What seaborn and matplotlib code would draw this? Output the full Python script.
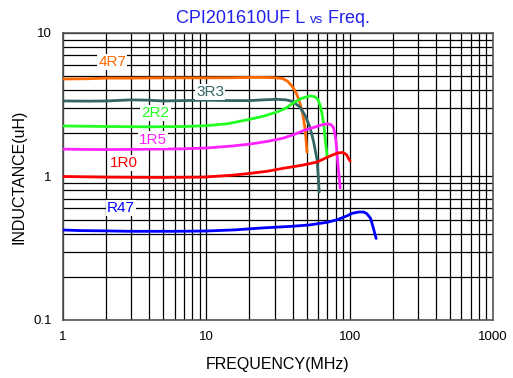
import numpy as np
import pandas as pd
import matplotlib
matplotlib.use("Agg")
import matplotlib.pyplot as plt
import seaborn as sns
from matplotlib.ticker import LogLocator, FixedLocator, FixedFormatter, NullFormatter

sns.set_theme(style="white")
plt.rcParams['font.family'] = ['Liberation Sans', 'DejaVu Sans']

# ---- data (frequency MHz, inductance uH) ----
f_4r7 = [1, 1.5, 2, 3, 5, 7, 10, 15, 20, 25, 30, 34, 37, 40, 42.5, 45, 47, 49, 50.4]
l_4r7 = [4.78, 4.8, 4.85, 4.85, 4.87, 4.87, 4.87, 4.88, 4.9, 4.9, 4.88, 4.82, 4.6, 4.2, 3.8, 3.25, 2.75, 2.1, 1.48]

f_3r3 = [1, 1.5, 2, 3, 4, 5, 7, 10, 15, 20, 25, 31, 36, 40, 45, 49, 52.8, 56, 59.3, 61.3]
l_3r3 = [3.36, 3.35, 3.36, 3.42, 3.4, 3.36, 3.38, 3.4, 3.38, 3.38, 3.42, 3.45, 3.42, 3.33, 3.05, 2.65, 2.21, 1.75, 1.30, 0.78]

f_2r2 = [1, 2, 4, 7, 10, 14, 19.2, 25, 31, 36, 40.3, 46, 52.8, 57, 60, 62.5, 64, 66, 67.3, 69.6]
l_2r2 = [2.25, 2.23, 2.22, 2.23, 2.26, 2.33, 2.48, 2.63, 2.81, 3.0, 3.25, 3.5, 3.64, 3.6, 3.45, 3.1, 2.77, 2.3, 1.88, 1.37]

f_1r5 = [1, 2, 4, 7, 10, 15, 20, 27, 34.3, 42, 48.8, 58, 65, 70, 74, 77, 79, 80.5, 83.1, 85.9]
l_1r5 = [1.55, 1.54, 1.55, 1.56, 1.58, 1.63, 1.68, 1.76, 1.85, 1.98, 2.11, 2.22, 2.3, 2.33, 2.3, 2.2, 1.98, 1.71, 1.17, 0.83]

f_1r0 = [1, 2, 4.75, 9.5, 15, 20, 27, 34.3, 47, 59, 69.6, 77, 83, 90, 95, 100.6]
l_1r0 = [1.0, 0.99, 0.985, 0.99, 1.02, 1.05, 1.09, 1.14, 1.20, 1.26, 1.36, 1.42, 1.46, 1.47, 1.42, 1.28]

f_r47 = [1, 1.3, 1.9, 3, 6, 10, 16, 23.7, 40, 52.8, 70, 82, 95, 105, 115, 125, 132, 140, 146, 153]
l_r47 = [0.424, 0.42, 0.418, 0.415, 0.415, 0.417, 0.425, 0.437, 0.45, 0.46, 0.48, 0.50, 0.53, 0.555, 0.565, 0.566, 0.55, 0.51, 0.44, 0.37]

series = ["4R7", "3R3", "2R2", "1R5", "1R0", "R47"]
freqs = [f_4r7, f_3r3, f_2r2, f_1r5, f_1r0, f_r47]
inds = [l_4r7, l_3r3, l_2r2, l_1r5, l_1r0, l_r47]
colors = ["#FF6A00", "#336666", "#22FF22", "#FF22FF", "#FF0000", "#0000FF"]
label_pos = [(2.2, 6.27), (10.6, 3.88), (4.4, 2.77), (4.25, 1.8), (2.66, 1.24), (2.54, 0.604)]

x_ticks = [1, 10, 100, 1000]
x_ticklabels = ["1", "10", "100", "1000"]
y_ticks = [0.1, 1, 10]
y_ticklabels = ["0.1", "1", "10"]

rows = []
for s, fs, ls in zip(series, freqs, inds):
    for f, l in zip(fs, ls):
        rows.append((s, f, l))
df = pd.DataFrame(rows, columns=["series", "freq", "ind"])

fig = plt.figure(figsize=(5.13, 3.78), dpi=100)
ax = fig.add_axes([63/513, 58/378, 430/513, 287/378])

sns.lineplot(data=df, x="freq", y="ind", hue="series", hue_order=series,
             palette=colors, estimator=None, sort=False, linewidth=2,
             legend=False, ax=ax, zorder=3)

ax.set_xscale("log")
ax.set_yscale("log")
ax.set_xlim(1, 1000)
ax.set_ylim(0.1, 10)

ax.xaxis.set_major_locator(FixedLocator(x_ticks))
ax.xaxis.set_major_formatter(FixedFormatter(x_ticklabels))
ax.yaxis.set_major_locator(FixedLocator(y_ticks))
ax.yaxis.set_major_formatter(FixedFormatter(y_ticklabels))
ax.xaxis.set_minor_locator(LogLocator(base=10, subs=np.arange(2, 10)))
ax.yaxis.set_minor_locator(LogLocator(base=10, subs=np.arange(2, 10)))
ax.xaxis.set_minor_formatter(NullFormatter())
ax.yaxis.set_minor_formatter(NullFormatter())

ax.grid(True, which="both", color="black", linewidth=0.9)
ax.tick_params(which="both", length=0, labelsize=9.5, colors="black", pad=8)
for sp in ax.spines.values():
    sp.set_color("#555555")
    sp.set_linewidth(1.2)

ax.set_xlabel("FREQUENCY(MHz)", fontsize=11.5, color="black", labelpad=10)
ax.set_ylabel("INDUCTANCE(uH)", fontsize=11.5, color="black", labelpad=5)

for s, c, (lx, ly) in zip(series, colors, label_pos):
    ax.text(lx, ly, s, color=c, fontsize=11, ha="center", va="center", zorder=4,
            bbox=dict(facecolor="white", edgecolor="none", pad=1.0))

# title with smaller "vs"
fig.canvas.draw()
r = fig.canvas.get_renderer()
ty = 1 - 23/378
t1 = fig.text(0, ty, "CPI201610UF L ", fontsize=13, color="#2020EE", va="baseline")
t2 = fig.text(0, ty, "vs", fontsize=9.5, color="#2020EE", va="baseline")
t3 = fig.text(0, ty, " Freq.", fontsize=13, color="#2020EE", va="baseline")
w = [t.get_window_extent(r).width for t in (t1, t2, t3)]
total = sum(w)
x0 = (273 - total / 2) / 513
xs = x0
for t, wi in zip((t1, t2, t3), w):
    t.set_x(xs)
    xs += wi / 513

fig.savefig("out.png", dpi=100, facecolor="white")
